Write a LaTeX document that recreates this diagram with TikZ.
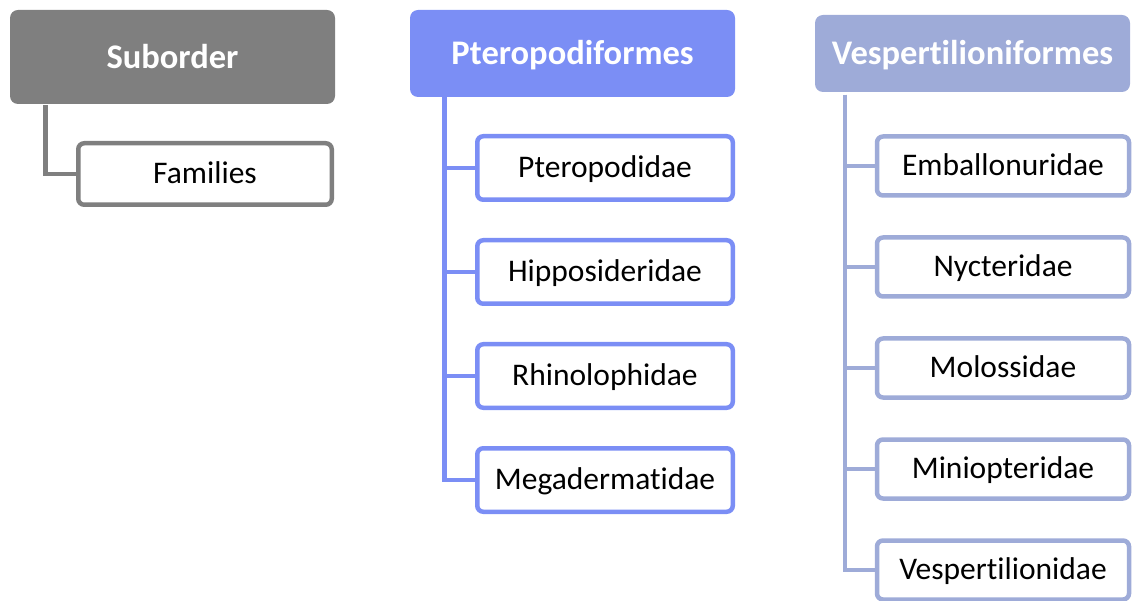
\documentclass[tikz,border=0pt]{standalone}
\usepackage{fontspec}
\setmainfont{Carlito}[Ligatures={NoCommon,NoRare}]
\definecolor{subgray}{RGB}{127,127,127}
\definecolor{pteroblue}{RGB}{123,142,245}
\definecolor{vespblue}{RGB}{158,171,216}
\begin{document}
\begin{tikzpicture}[x=1pt,y=-1pt,
  title/.style={rounded corners=8pt,inner sep=0pt,text=white,
    font=\fontsize{34.5}{40}\selectfont\bfseries,text height=25.9pt,text depth=3.8pt},
  family/.style={draw,line width=4.5pt,rounded corners=6pt,fill=white,inner sep=0pt,
    text=black,font=\fontsize{31.5}{36}\selectfont,text height=22.7pt,text depth=4.4pt},
  link/.style={line width=4.8pt}]
\useasboundingbox (0,0) rectangle (1132,601);

% legend: suborder and family
\node[title,fill=subgray,minimum width=325pt,minimum height=94pt] (sub) at (172.5,57) {Suborder};
\node[family,draw=subgray,minimum width=253.5pt,minimum height=61.5pt] (fam) at (205,174) {Families};
\coordinate (subtrunk) at (45.8,105);
\draw[link,draw=subgray] (subtrunk) |- (fam.west);

% Pteropodiformes
\node[title,fill=pteroblue,minimum width=325pt,minimum height=87pt] (ptero) at (572.5,53.5) {Pteropodiformes};
\begin{scope}[every node/.style={family,draw=pteroblue,minimum width=255.5pt,minimum height=63.5pt}]
  \node (p1) at (605,168) {Pteropodidae};
  \node (p2) at (605,272) {Hipposideridae};
  \node (p3) at (605,376) {Rhinolophidae};
  \node (p4) at (605,480) {Megadermatidae};
\end{scope}
\coordinate (ptrunk) at (444.5,97);
\foreach \c in {p1,p2,p3,p4}
  \draw[link,draw=pteroblue] (ptrunk) |- (\c.west);

% Vespertilioniformes
\node[title,fill=vespblue,minimum width=315pt,minimum height=77pt] (vesp) at (972.5,53.5) {Vespertilioniformes};
\begin{scope}[every node/.style={family,draw=vespblue,minimum width=252pt,minimum height=59pt}]
  \node (v1) at (1003,166) {Emballonuridae};
  \node (v2) at (1003,267) {Nycteridae};
  \node (v3) at (1003,368) {Molossidae};
  \node (v4) at (1003,469) {Miniopteridae};
  \node (v5) at (1003,570) {Vespertilionidae};
\end{scope}
\coordinate (vtrunk) at (845,95);
\foreach \c in {v1,v2,v3,v4,v5}
  \draw[link,draw=vespblue] (vtrunk) |- (\c.west);
\end{tikzpicture}
\end{document}
